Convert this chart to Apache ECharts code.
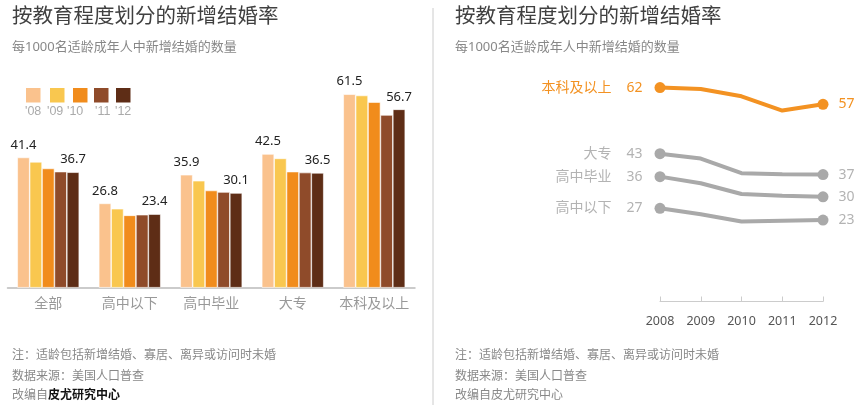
<!DOCTYPE html>
<html>
<head>
<meta charset="utf-8">
<script src="https://cdn.jsdelivr.net/npm/echarts@6/dist/echarts.min.js"></script>
<style>
  html, body { margin: 0; padding: 0; background: #fff; }
  #chart { width: 856px; height: 409px; }
</style>
</head>
<body>
<div id="chart"></div>
<script>
// 数据
const groups = ['全部', '高中以下', '高中毕业', '大专', '本科及以上'];
const years = ['2008', '2009', '2010', '2011', '2012'];
const yearTags = ["'08", "'09", "'10", "'11", "'12"];
// 每组按年份 2008-2012
const allRate = [41.4, 40.0, 37.9, 36.9, 36.7];
const belowHigh = [26.8, 25.1, 23.0, 23.2, 23.4];
const highGrad = [35.9, 34.0, 30.9, 30.4, 30.1];
const college = [42.5, 41.1, 36.9, 36.6, 36.5];
const bachelor = [61.5, 61.1, 59.0, 54.9, 56.7];

const FONT = "'Noto Sans', 'Noto Sans CJK SC', sans-serif";
const yearColors = ['#fac28d', '#f9c74f', '#f18c1c', '#8f4b2a', '#5e2d16'];
const ORANGE = '#f39222';
const GRAY = '#a9a9a9';

const chart = echarts.init(document.getElementById('chart'));

// 柱状图：每个年份一个系列
const byGroup = [allRate, belowHigh, highGrad, college, bachelor];
const barSeries = years.map((y, i) => ({
  name: y,
  type: 'bar',
  xAxisIndex: 0,
  yAxisIndex: 0,
  barGap: '0%',
  barCategoryGap: '24%',
  data: byGroup.map(g => g[i]),
  itemStyle: { color: yearColors[i], borderColor: '#fff', borderWidth: 0.6 },
  label: {
    show: i === 0 || i === years.length - 1,
    position: 'top',
    distance: 6,
    color: '#222',
    fontSize: 13,
    fontFamily: FONT
  }
}));

// 折线图
const lineDefs = [
  { name: '本科及以上', data: bachelor, color: ORANGE, textColor: ORANGE },
  { name: '大专', data: college, color: GRAY, textColor: '#b3b3b3' },
  { name: '高中毕业', data: highGrad, color: GRAY, textColor: '#b3b3b3' },
  { name: '高中以下', data: belowHigh, color: GRAY, textColor: '#b3b3b3' }
];
const lineSeries = lineDefs.map(d => ({
  name: d.name,
  type: 'line',
  xAxisIndex: 1,
  yAxisIndex: 1,
  symbol: 'circle',
  z: d.color === ORANGE ? 5 : 3,
  lineStyle: { width: 4, color: d.color },
  itemStyle: { color: d.color },
  data: d.data.map((v, k) => {
    const last = d.data.length - 1;
    if (k === 0) {
      return {
        value: v, symbolSize: 11,
        label: {
          show: true, position: 'left', distance: 12,
          formatter: () => `{n|${d.name}}{v|${Math.round(v)}}`,
          rich: {
            n: { fontSize: 14, color: d.textColor, fontFamily: FONT, padding: [0, 13, 0, 0] },
            v: { fontSize: 14, color: d.textColor, fontFamily: FONT, width: 18, align: 'right' }
          }
        }
      };
    }
    if (k === last) {
      return {
        value: v, symbolSize: 11,
        label: {
          show: true, position: 'right', distance: 10,
          formatter: () => String(Math.round(v)),
          fontSize: 14, color: d.textColor, fontFamily: FONT
        }
      };
    }
    return { value: v, symbolSize: 0 };
  })
}));

// 文字与图例
const graphics = [];
[12, 455].forEach(x0 => {
  graphics.push({
    type: 'text', x: x0, y: 17,
    style: { text: '按教育程度划分的新增结婚率', fontSize: 20.5, fill: '#404040', fontFamily: FONT, textVerticalAlign: 'middle' }
  });
  graphics.push({
    type: 'text', x: x0, y: 47,
    style: { text: '每1000名适龄成年人中新增结婚的数量', fontSize: 13, fill: '#888', fontFamily: FONT, textVerticalAlign: 'middle' }
  });
  graphics.push({
    type: 'text', x: x0, y: 356,
    style: { text: '注：适龄包括新增结婚、寡居、离异或访问时未婚', fontSize: 12, fill: '#888', fontFamily: FONT, textVerticalAlign: 'middle' }
  });
  graphics.push({
    type: 'text', x: x0, y: 377,
    style: { text: '数据来源：美国人口普查', fontSize: 12, fill: '#888', fontFamily: FONT, textVerticalAlign: 'middle' }
  });
});
graphics.push({
  type: 'text', x: 12, y: 396,
  style: {
    text: '{a|改编自}{b|皮尤研究中心}', textVerticalAlign: 'middle',
    rich: {
      a: { fontSize: 12, fill: '#888', fontFamily: FONT },
      b: { fontSize: 12, fill: '#111', fontWeight: 'bold', fontFamily: FONT }
    }
  }
});
graphics.push({
  type: 'text', x: 455, y: 396,
  style: { text: '改编自皮尤研究中心', fontSize: 12, fill: '#888', fontFamily: FONT, textVerticalAlign: 'middle' }
});
graphics.push({
  type: 'line', shape: { x1: 433, y1: 8, x2: 433, y2: 405 },
  style: { stroke: '#ccc', lineWidth: 1 }
});
const boxX = [26, 50, 73, 94, 116];
const tagX = [25, 47, 67, 95, 115];
yearTags.forEach((t, i) => {
  graphics.push({
    type: 'rect', shape: { x: boxX[i], y: 88, width: 14.5, height: 14.5 },
    style: { fill: yearColors[i] }
  });
  graphics.push({
    type: 'text', x: tagX[i], y: 112,
    style: { text: t, fontSize: 12.5, fill: '#aaa', fontFamily: "'Liberation Sans', sans-serif", textVerticalAlign: 'middle' }
  });
});

chart.setOption({
  animation: false,
  backgroundColor: '#fff',
  grid: [
    { left: 7.5, width: 407.5, top: 67.5, bottom: 121.3 },
    { left: 660, right: 33, top: 58, bottom: 104 }
  ],
  xAxis: [
    {
      type: 'category', gridIndex: 0, data: groups,
      axisLine: { lineStyle: { color: '#bbb', width: 1.5 } },
      axisTick: { show: false },
      axisLabel: { color: '#999', fontSize: 14, fontFamily: FONT, margin: 9, interval: 0 }
    },
    {
      type: 'category', gridIndex: 1, data: years, boundaryGap: false,
      axisLine: { lineStyle: { color: '#ccc' } },
      axisTick: { inside: true, length: 5, lineStyle: { color: '#ccc' } },
      axisLabel: { color: '#555', fontSize: 12.5, fontFamily: FONT, margin: 10, interval: 0 }
    }
  ],
  yAxis: [
    { type: 'value', gridIndex: 0, min: 0, max: 70, show: false, splitLine: { show: false } },
    { type: 'value', gridIndex: 1, min: -1, max: 70, show: false, splitLine: { show: false } }
  ],
  series: barSeries.concat(lineSeries),
  graphic: graphics
});
</script>
</body>
</html>
